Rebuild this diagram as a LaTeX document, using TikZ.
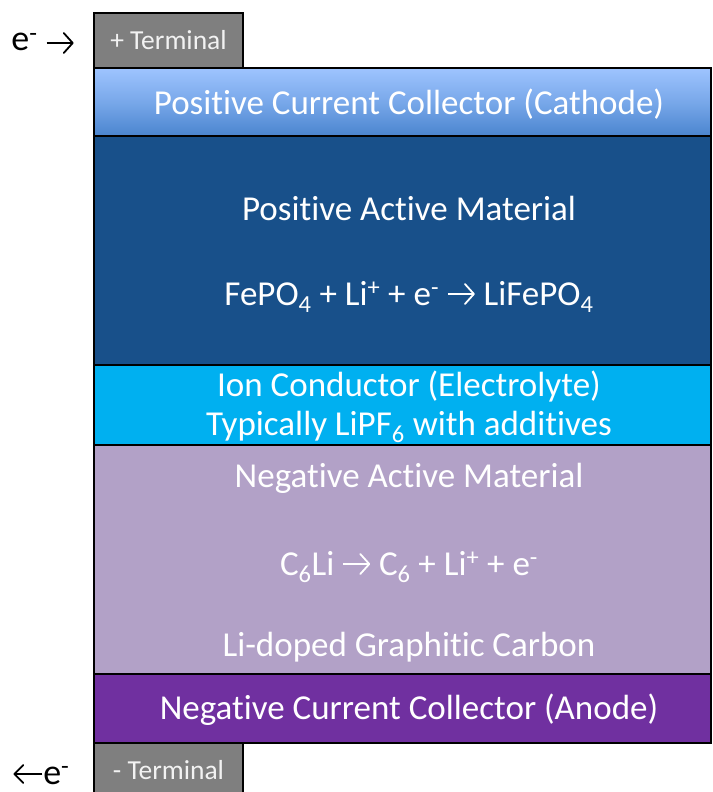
\documentclass[tikz,border=0pt]{standalone}
\usepackage{fontspec}
\usetikzlibrary{arrows.meta}
\setmainfont{Carlito}[Ligatures=NoCommon]
\definecolor{posact}{HTML}{18508A}
\definecolor{ion}{HTML}{00B0F0}
\definecolor{negact}{HTML}{B2A1C7}
\definecolor{negcol}{HTML}{7030A0}
\definecolor{term}{HTML}{7F7F7F}
\definecolor{gtop}{HTML}{9EC4FF}
\definecolor{gbot}{HTML}{4A85CF}
% inline arrows: #1 = height of the shaft above baseline
\newcommand{\arrR}[1]{\tikz[baseline=-#1,x=1pt,y=1pt]\draw[line width=1.8pt,-{Straight Barb[length=9pt,width=20pt,line cap=round,line join=round]}] (0,0) -- (27,0);}
\newcommand{\arrL}[1]{\tikz[baseline=-#1,x=1pt,y=1pt]\draw[line width=1.8pt,-{Straight Barb[length=9pt,width=18pt,line cap=round,line join=round]}] (29,0) -- (0,0);}
\begin{document}
\begin{tikzpicture}[x=1pt,y=-1pt,
  layerbox/.style={draw=black,line width=1.5pt},
  lbl/.style={text=white,font=\fontsize{35}{42}\selectfont,inner sep=0pt,anchor=base},
  tlbl/.style={text=white!95!black,font=\fontsize{27.5}{33}\selectfont,inner sep=0pt,anchor=base},
  elbl/.style={text=black,font=\fontsize{36}{42}\selectfont,inner sep=0pt,anchor=base}]
\useasboundingbox (0,0) rectangle (712,792);
\fill[white] (0,0) rectangle (712,792);
% layers
\path[layerbox,fill=term] (94,13) rectangle (243,68);
\path[layerbox,top color=gtop,bottom color=gbot,middle color=gtop!55!gbot] (94,68) rectangle (711,136);
\path[layerbox,fill=posact] (94,136) rectangle (711,365);
\path[layerbox,fill=ion] (94,365) rectangle (711,445);
\path[layerbox,fill=negact] (94,445) rectangle (711,674);
\path[layerbox,fill=negcol] (94,674) rectangle (711,743);
\fill[term] (94,743) rectangle (243,794);
\draw[black,line width=1.5pt] (94,794) -- (94,743) -- (243,743) -- (243,794);
% labels
\node[tlbl] (pt) at (168.5,50) {+ Terminal};
\node[tlbl] (nt) at (168.5,779) {- Terminal};
\node[elbl] (ein) at (43,51) {e\textsuperscript{-} \arrR{8pt}};
\node[elbl] (eout) at (41,784) {\arrL{10pt}e\textsuperscript{-}};
\node[lbl] (pcc) at (409,114) {Positive Current Collector (Cathode)};
\node[lbl] (pam) at (409,220) {Positive Active Material};
\node[lbl] (peq) at (409,305) {FePO\textsubscript{4} + Li\textsuperscript{+} + e\textsuperscript{-} \arrR{11pt} LiFePO\textsubscript{4}};
\node[lbl] (ic) at (409,396) {Ion Conductor (Electrolyte)};
\node[lbl] (ic2) at (409,435) {Typically LiPF\textsubscript{6} with additives};
\node[lbl] (nam) at (409,487) {Negative Active Material};
\node[lbl] (neq) at (409,575) {C\textsubscript{6}Li \arrR{11pt} C\textsubscript{6} + Li\textsuperscript{+} + e\textsuperscript{-}};
\node[lbl] (gc) at (409,656) {Li-doped Graphitic Carbon};
\node[lbl] (ncc) at (409,719) {Negative Current Collector (Anode)};
\end{tikzpicture}
\end{document}
